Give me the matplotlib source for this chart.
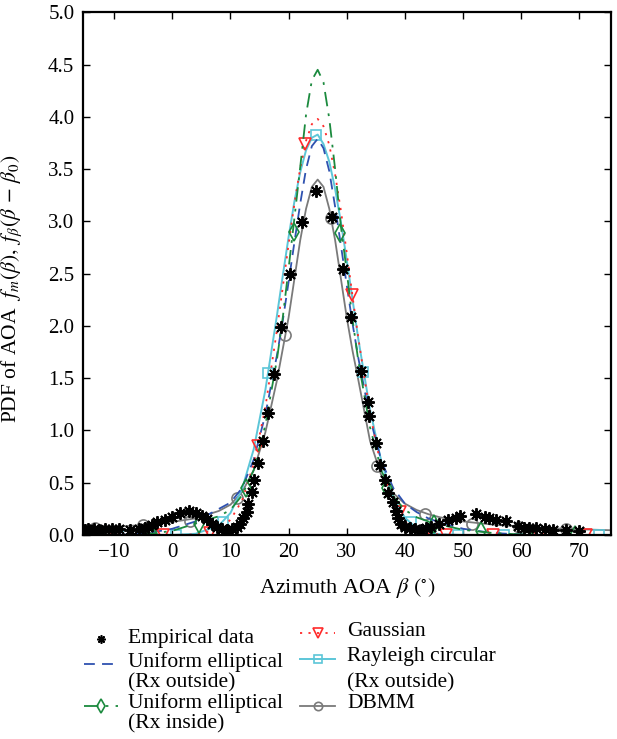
import numpy as np
import matplotlib
matplotlib.use("Agg")
import matplotlib.pyplot as plt
from matplotlib.lines import Line2D

plt.rcParams['font.family'] = ['Liberation Serif', 'DejaVu Serif']
plt.rcParams['mathtext.fontset'] = 'stix'

# common angle grid for the model curves (degrees)
xs = [-16, -12, -8, -4, 0, 4, 8, 10, 12, 14, 16, 18, 19, 20, 21, 22, 23, 24, 25,
      26, 27, 28, 29, 30, 31, 32, 34, 36, 38, 40, 42, 44, 46, 50, 55, 60, 65, 70, 76]

gauss = [0, 0, 0, 0, 0, 0.006, 0.056, 0.145, 0.33, 0.68, 1.22, 1.96, 2.37, 2.78, 3.17,
         3.51, 3.77, 3.93, 3.98, 3.91, 3.73, 3.45, 3.10, 2.70, 2.28, 1.88, 1.16, 0.63,
         0.31, 0.13, 0.05, 0.017, 0.005, 0, 0, 0, 0, 0, 0]
rayleigh = [0, 0, 0, 0, 0.001, 0.012, 0.09, 0.21, 0.44, 0.82, 1.385, 2.10, 2.48, 2.85,
            3.19, 3.47, 3.68, 3.80, 3.83, 3.74, 3.57, 3.31, 2.99, 2.63, 2.25, 1.87, 1.20,
            0.69, 0.36, 0.165, 0.068, 0.026, 0.008, 0, 0, 0, 0, 0, 0]
ue_out = [0, 0, 0.005, 0.02, 0.06, 0.13, 0.25, 0.31, 0.45, 0.72, 1.15, 1.72, 2.05, 2.42,
          2.80, 3.17, 3.50, 3.72, 3.79, 3.70, 3.48, 3.14, 2.77, 2.39, 2.02, 1.69, 1.12,
          0.70, 0.45, 0.30, 0.22, 0.16, 0.12, 0.06, 0.02, 0.005, 0, 0, 0]
ue_in = [0, 0, 0, 0.01, 0.04, 0.11, 0.18, 0.24, 0.38, 0.62, 1.05, 1.68, 2.08, 2.55, 3.03,
         3.52, 4.02, 4.35, 4.45, 4.33, 3.98, 3.50, 2.95, 2.52, 2.06, 1.66, 1.03, 0.61,
         0.37, 0.24, 0.17, 0.13, 0.10, 0.05, 0.02, 0.005, 0, 0, 0]
dbmm = [0.065, 0.075, 0.085, 0.10, 0.125, 0.16, 0.23, 0.29, 0.41, 0.62, 0.98, 1.48, 1.78,
        2.08, 2.45, 2.82, 3.12, 3.33, 3.40, 3.33, 3.12, 2.82, 2.45, 2.08, 1.76, 1.48, 0.90,
        0.56, 0.40, 0.30, 0.24, 0.20, 0.17, 0.13, 0.10, 0.08, 0.065, 0.055, 0.045]

# marker positions along each model curve
gauss_mx = [-9.8, -1.6, 6.5, 14.7, 22.9, 30.9, 39.1, 47.1, 55.1, 63.1, 71.2]
gauss_my = [0, 0, 0.02, 0.85, 3.74, 2.30, 0.22, 0, 0, 0, 0]
rayleigh_mx = [-7.6, 0.6, 8.7, 16.5, 24.7, 32.8, 41.1, 49.1, 57.1, 65.1, 73.3]
rayleigh_my = [0, 0, 0.12, 1.55, 3.83, 1.56, 0.12, 0, 0, 0, 0]
ue_in_mx = [-12.2, -3.5, 4.6, 12.7, 20.9, 28.9, 36.9, 45.0, 53.1, 61.2, 69.2]
ue_in_my = [0, 0.01, 0.11, 0.45, 2.90, 2.89, 0.45, 0.11, 0.04, 0, 0]
dbmm_mx = [-13.2, -5.0, 3.1, 11.2, 19.4, 27.3, 35.2, 43.4, 51.5, 59.6, 67.7]
dbmm_my = [0.065, 0.095, 0.13, 0.35, 1.91, 3.03, 0.66, 0.20, 0.11, 0.08, 0.06]

# empirical data
emp_x = [-15.0, -14.4, -13.5, -12.6, -11.5, -10.3, -9.2, -7.2, -5.8, -4.6, -4.1, -3.5,
         -2.6, -1.2, -0.1, 1.4, 2.8, 4.0, 5.1, 6.0, 6.8, 7.7, 8.5, 9.4, 10.2, 11.1, 11.7,
         12.2, 12.8, 13.1, 13.7, 14.0, 14.8, 15.6, 16.5, 17.5, 18.7, 20.2, 22.3, 24.7,
         27.5, 29.4, 30.8, 32.4, 33.6, 33.9, 35.1, 35.8, 36.5, 37.1, 37.9, 38.4, 38.8,
         39.4, 40.0, 40.8, 41.7, 42.8, 43.7, 44.5, 45.8, 47.4, 48.8, 49.4, 52.3, 53.7,
         54.5, 55.6, 57.4, 59.4, 60.4, 61.4, 62.6, 64.0, 65.4, 67.7, 70.0]
emp_y = [0.05, 0.055, 0.055, 0.05, 0.055, 0.06, 0.06, 0.045, 0.055, 0.07, 0.08, 0.095,
         0.12, 0.145, 0.175, 0.21, 0.23, 0.215, 0.185, 0.15, 0.11, 0.08, 0.055, 0.048,
         0.055, 0.08, 0.11, 0.16, 0.22, 0.30, 0.41, 0.53, 0.69, 0.90, 1.17, 1.54, 1.99,
         2.50, 2.99, 3.29, 3.04, 2.54, 2.09, 1.57, 1.27, 1.14, 0.88, 0.67, 0.53, 0.40,
         0.32, 0.23, 0.16, 0.11, 0.08, 0.064, 0.054, 0.05, 0.064, 0.08, 0.11, 0.14,
         0.166, 0.185, 0.20, 0.176, 0.166, 0.146, 0.13, 0.09, 0.07, 0.064, 0.064, 0.06,
         0.05, 0.05, 0.04]

c_blue = '#2f52b0'
c_green = '#1b8a3e'
c_red = '#ff2a2a'
c_cyan = '#5cc6d8'
c_gray = '#7a7a7a'

st_blue = dict(color=c_blue, lw=1.3, dashes=(6, 4))
st_green = dict(color=c_green, lw=1.3, dashes=(8, 4, 1.5, 4))
st_red = dict(color=c_red, lw=1.3, dashes=(1.2, 3.5))
st_cyan = dict(color=c_cyan, lw=1.4)
st_gray = dict(color=c_gray, lw=1.3)

mk_red = dict(marker='v', ms=9, mfc='none', mec=c_red, mew=1.2, ls='none')
mk_cyan = dict(marker='s', ms=7, mfc='none', mec=c_cyan, mew=1.2, ls='none')
mk_green = dict(marker='d', ms=9, mfc='none', mec=c_green, mew=1.2, ls='none')
mk_gray = dict(marker='o', ms=8, mfc='none', mec=c_gray, mew=1.2, ls='none')
mk_emp = dict(marker=(8, 2, 0), ms=9, mec='black', mew=1.4, ls='none')

fig = plt.figure(figsize=(6.17, 7.39), dpi=100)
ax = fig.add_axes([0.134, 0.276, 0.856, 0.7074])

ax.plot(xs, dbmm, **st_gray)
ax.plot(dbmm_mx, dbmm_my, **mk_gray)
ax.plot(xs, rayleigh, **st_cyan)
ax.plot(rayleigh_mx, rayleigh_my, **mk_cyan)
ax.plot(xs, ue_out, **st_blue)
ax.plot(xs, gauss, **st_red)
ax.plot(gauss_mx, gauss_my, **mk_red)
ax.plot(xs, ue_in, **st_green)
ax.plot(ue_in_mx, ue_in_my, **mk_green)
ax.plot(emp_x, emp_y, **mk_emp, zorder=5)

ax.set_xlim(-15.4, 75.4)
ax.set_ylim(0, 5)
ax.set_xticks(np.arange(-10, 71, 10))
ax.set_yticks(np.arange(0, 5.01, 0.5))
ax.set_xticklabels(['\u221210'] + [str(v) for v in range(0, 71, 10)])
ax.set_yticklabels(['%.1f' % v for v in np.arange(0, 5.01, 0.5)])
ax.tick_params(direction='in', top=True, right=True, length=5, width=1,
               labelsize=15, pad=6)
for s in ax.spines.values():
    s.set_linewidth(1.6)

ax.set_xlabel(r'Azimuth AOA $\beta$ $(^{\circ})$', fontsize=16, labelpad=10)
ax.set_ylabel(r'PDF of AOA $\ f_m(\beta),\ f_\beta(\beta\,-\,\beta_0)$', fontsize=15.5)
ax.yaxis.set_label_coords(-0.112, 0.47)

# legend drawn by hand so the handles line up with the first text line
W, H = 617.0, 739.0


def handle(x0, x1, y, line_style=None, marker_style=None):
    xf = [x0 / W, x1 / W]
    yf = [1 - y / H, 1 - y / H]
    if line_style is not None:
        fig.add_artist(Line2D(xf, yf, transform=fig.transFigure, **line_style))
    if marker_style is not None:
        ms = dict(marker_style)
        ms['ms'] = ms['ms'] * 0.75
        fig.add_artist(Line2D([(x0 + x1) / 2 / W], [1 - y / H],
                              transform=fig.transFigure, **ms))


def label(x, y, s):
    fig.text(x / W, 1 - y / H, s, fontsize=15.5, va='center', ha='left')


handle(84, 118, 639, None, dict(mk_emp, ms=8, mew=1.2))
label(128, 638, 'Empirical data')
handle(84, 118, 664, st_blue, None)
label(128, 662, 'Uniform elliptical')
label(128, 683, '(Rx outside)')
handle(84, 118, 706, st_green, mk_green)
label(128, 703, 'Uniform elliptical')
label(128, 724, '(Rx inside)')

handle(300, 335, 633, st_red, mk_red)
label(347, 631, 'Gaussian')
handle(300, 335, 659, st_cyan, mk_cyan)
label(347, 657, 'Rayleigh circular')
label(347, 683, '(Rx outside)')
handle(300, 335, 706, st_gray, mk_gray)
label(347, 703, 'DBMM')

fig.savefig('out.png', dpi=100)
